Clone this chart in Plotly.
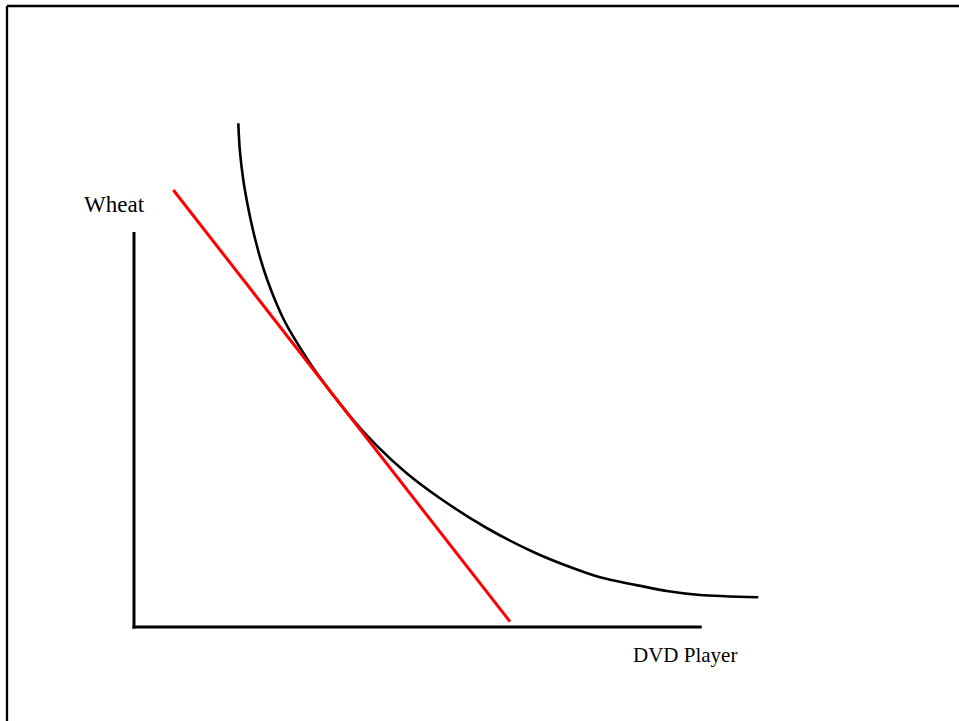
import plotly.graph_objects as go

# Indifference curve (DVD Player units, Wheat units)
curve_x = [10.43, 10.58, 10.93, 11.27, 11.67, 12.10, 12.67, 13.33, 14.10, 15.00, 15.93,
           18.27, 21.60, 24.27, 27.27, 30.60, 35.27, 39.93, 43.27, 46.60, 49.93, 53.27,
           56.60, 62.43]
curve_y = [50.37, 47.70, 44.70, 42.70, 40.70, 38.85, 36.74, 34.70, 32.70, 30.70, 29.03,
           25.40, 21.07, 18.13, 15.37, 12.87, 9.90, 7.50, 6.12, 4.97, 4.25, 3.60,
           3.20, 2.97]

# Budget line
budget_x = [3.93, 37.60]
budget_y = [43.70, 0.53]

# Axes extents
yaxis_top = 39.5
xaxis_end = 56.77

x_label = "DVD Player"
y_label = "Wheat"

fig = go.Figure()

fig.add_trace(go.Scatter(x=[0, 0], y=[-0.15, yaxis_top], mode="lines",
                         line=dict(color="black", width=3), hoverinfo="skip"))
fig.add_trace(go.Scatter(x=[-0.15, xaxis_end], y=[0, 0], mode="lines",
                         line=dict(color="black", width=3), hoverinfo="skip"))
fig.add_trace(go.Scatter(x=curve_x, y=curve_y, mode="lines",
                         line=dict(color="black", width=2.6, shape="spline", smoothing=0.8),
                         hoverinfo="skip"))
fig.add_trace(go.Scatter(x=budget_x, y=budget_y, mode="lines",
                         line=dict(color="#ff0000", width=3), hoverinfo="skip"))

# Frame (left and top edges only)
fig.add_shape(type="line", xref="x", yref="y", x0=-12.7, x1=90, y0=62.1, y1=62.1,
              line=dict(color="black", width=2.3))
fig.add_shape(type="line", xref="x", yref="y", x0=-12.7, x1=-12.7, y0=62.1, y1=-20,
              line=dict(color="black", width=2.3))

fig.add_annotation(x=-5.2, y=42.3, text=y_label, showarrow=False, xanchor="left",
                   yanchor="middle", font=dict(family="Liberation Serif", size=23, color="black"))
fig.add_annotation(x=49.65, y=-2.8, text=x_label, showarrow=False, xanchor="left",
                   yanchor="middle", font=dict(family="Liberation Serif", size=21, color="black"))

fig.update_xaxes(range=[-13.4, 82.5], visible=False, fixedrange=True)
fig.update_yaxes(range=[-9.4, 62.7], visible=False, fixedrange=True)
fig.update_layout(width=959, height=721, autosize=False,
                  margin=dict(l=0, r=0, t=0, b=0, pad=0),
                  paper_bgcolor="white", plot_bgcolor="white",
                  showlegend=False, hovermode=False)

fig.write_html("out.html", config={"displayModeBar": False},
               post_script="document.body.style.margin='0px';document.body.style.overflow='hidden';")
